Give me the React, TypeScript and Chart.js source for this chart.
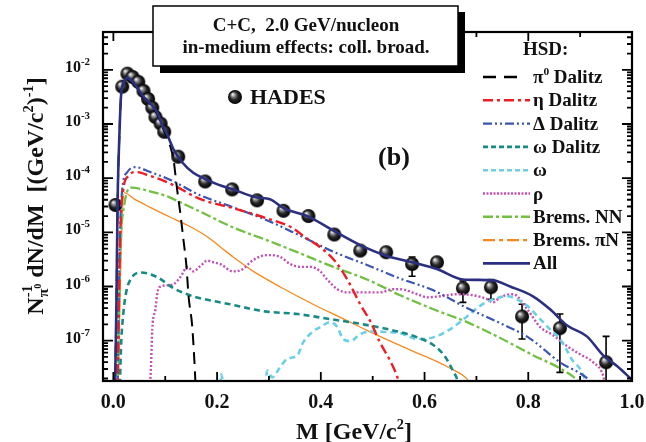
import React, { useEffect, useRef } from 'react';
import { Chart, registerables } from 'chart.js';
Chart.register(...registerables);

const FONT = '"Liberation Serif", "Times New Roman", serif';

// ---- axes ----
const xMin = -0.02;
const xMax = 1.0;
const yMin = 1.8e-8;
const yMax = 5e-2;
const xMajorTicks = [0, 0.2, 0.4, 0.6, 0.8, 1.0];
const xMajorLabels = ['0.0', '0.2', '0.4', '0.6', '0.8', '1.0'];
const xMinorTicks = [0.1, 0.3, 0.5, 0.7, 0.9];
const yDecades = [-7, -6, -5, -4, -3, -2];

// ---- HADES data ----
const hadesM = [0.004, 0.017, 0.027, 0.037, 0.048, 0.058, 0.067, 0.075, 0.081, 0.091, 0.098, 0.125, 0.177, 0.229, 0.277, 0.328, 0.376, 0.426, 0.476, 0.526, 0.576, 0.624, 0.674, 0.728, 0.788, 0.861, 0.950];
const hadesY = [3.2e-5, 4.9e-3, 8.5e-3, 7.4e-3, 6.0e-3, 4.1e-3, 2.9e-3, 2.0e-3, 1.35e-3, 1.02e-3, 7.2e-4, 2.5e-4, 8.7e-5, 6.2e-5, 3.9e-5, 2.5e-5, 2.0e-5, 9.1e-6, 4.6e-6, 4.3e-6, 2.6e-6, 2.8e-6, 9.3e-7, 9.7e-7, 2.8e-7, 1.7e-7, 4.0e-8];
const hadesErrHi: (number | null)[] = [null, null, null, null, null, null, null, null, null, null, null, null, null, null, null, null, null, null, null, null, 3.5e-6, null, 1.26e-6, 1.35e-6, 4.7e-7, 3.1e-7, 1.2e-7];
const hadesErrLo: (number | null)[] = [null, null, null, null, null, null, null, null, null, null, null, null, null, null, null, null, null, null, null, null, 1.55e-6, null, 5.1e-7, 5.8e-7, 1.07e-7, 2.6e-8, 1e-9];

// ---- HSD curves ----
const allM = [0.003, 0.006, 0.008, 0.012, 0.015, 0.021, 0.027, 0.039, 0.058, 0.071, 0.085, 0.094, 0.104, 0.116, 0.133, 0.154, 0.181, 0.202, 0.227, 0.277, 0.302, 0.328, 0.376, 0.426, 0.476, 0.526, 0.576, 0.624, 0.674, 0.732, 0.765, 0.809, 0.842, 0.875, 0.913, 0.944, 0.971, 1.0];
const allY = [1e-8, 5.8e-7, 3.0e-5, 7.9e-4, 3.5e-3, 6.0e-3, 7.1e-3, 5.8e-3, 3.2e-3, 2.4e-3, 1.6e-3, 9.7e-4, 6.3e-4, 3.4e-4, 1.95e-4, 1.26e-4, 9.3e-5, 7.6e-5, 6.4e-5, 4.4e-5, 4.1e-5, 2.8e-5, 1.95e-5, 1.05e-5, 5.8e-6, 3.7e-6, 2.8e-6, 2.1e-6, 1.35e-6, 1.3e-6, 1.0e-6, 6.6e-7, 3.8e-7, 1.9e-7, 1.2e-7, 5.4e-8, 3.4e-8, 1.9e-8];

const pi0M = [0.003, 0.006, 0.008, 0.012, 0.015, 0.021, 0.027, 0.039, 0.058, 0.071, 0.085, 0.094, 0.104, 0.110, 0.116, 0.119, 0.123, 0.129, 0.135, 0.141, 0.145, 0.152, 0.156, 0.158, 0.162];
const pi0Y = [1e-8, 5.8e-7, 3e-5, 7.9e-4, 3.5e-3, 6e-3, 7.0e-3, 5.7e-3, 3.1e-3, 2.3e-3, 1.5e-3, 9e-4, 5.5e-4, 3.8e-4, 2.2e-4, 1.3e-4, 6.1e-5, 2.3e-5, 7.4e-6, 2.3e-6, 6.6e-7, 1.85e-7, 4.6e-8, 1.9e-8, 5e-9];

const etaM = [0.008, 0.013, 0.019, 0.029, 0.042, 0.071, 0.110, 0.168, 0.231, 0.297, 0.343, 0.370, 0.399, 0.428, 0.451, 0.476, 0.495, 0.514, 0.534, 0.547, 0.557];
const etaY = [1e-8, 7.4e-6, 6.1e-5, 1.1e-4, 1.3e-4, 1.1e-4, 7.9e-5, 4.1e-5, 2.8e-5, 1.8e-5, 1.24e-5, 8.1e-6, 5.3e-6, 2.9e-6, 1.35e-6, 4.7e-7, 2.3e-7, 9.3e-8, 4.2e-8, 2.2e-8, 1e-8];

const deltaM = [0.008, 0.012, 0.017, 0.027, 0.042, 0.071, 0.110, 0.168, 0.231, 0.297, 0.360, 0.424, 0.489, 0.553, 0.617, 0.682, 0.746, 0.800, 0.861, 0.919, 0.938];
const deltaY = [1e-8, 4.9e-6, 6.1e-5, 1.3e-4, 1.6e-4, 1.3e-4, 9.3e-5, 4.8e-5, 2.9e-5, 1.66e-5, 8.7e-6, 4.4e-6, 2.5e-6, 1.4e-6, 8.5e-7, 4.0e-7, 2.1e-7, 1.15e-7, 4.0e-8, 1.8e-8, 1e-8];

const omegaDalM = [0.012, 0.015, 0.019, 0.025, 0.033, 0.052, 0.085, 0.116, 0.154, 0.193, 0.225, 0.289, 0.355, 0.418, 0.482, 0.553, 0.586, 0.617, 0.640, 0.653, 0.663, 0.670];
const omegaDalY = [1e-8, 8.7e-8, 3.1e-7, 8.1e-7, 1.35e-6, 1.82e-6, 1.48e-6, 9.3e-7, 6.6e-7, 5.4e-7, 4.7e-7, 3.5e-7, 3.1e-7, 2.5e-7, 2.0e-7, 1.44e-7, 1.15e-7, 8.3e-8, 5.0e-8, 3.0e-8, 1.9e-8, 1e-8];

const omegaM = [0.205, 0.208, 0.215, 0.290, 0.297, 0.306, 0.322, 0.335, 0.355, 0.366, 0.385, 0.399, 0.418, 0.432, 0.443, 0.457, 0.476, 0.501, 0.528, 0.553, 0.586, 0.617, 0.649, 0.682, 0.707, 0.732, 0.759, 0.778, 0.798, 0.823, 0.842, 0.861, 0.875, 0.886, 0.900, 0.909, 0.915];
const omegaY = [1e-8, 2.4e-8, 1e-8, 1e-8, 2.8e-8, 2.1e-8, 3.3e-8, 4.6e-8, 5.4e-8, 9.3e-8, 1.48e-7, 1.78e-7, 2.2e-7, 1.78e-7, 1.07e-7, 9.8e-8, 1.32e-7, 1.48e-7, 1.44e-7, 1.38e-7, 1.07e-7, 1.15e-7, 1.62e-7, 2.8e-7, 4.4e-7, 5.8e-7, 6.6e-7, 5.8e-7, 4.4e-7, 2.5e-7, 1.62e-7, 1.07e-7, 6.5e-8, 4.2e-8, 3.0e-8, 1.9e-8, 1e-8];

const rhoM = [0.070, 0.073, 0.075, 0.081, 0.085, 0.091, 0.104, 0.116, 0.129, 0.143, 0.154, 0.168, 0.181, 0.193, 0.206, 0.231, 0.250, 0.264, 0.283, 0.302, 0.322, 0.341, 0.360, 0.380, 0.399, 0.412, 0.432, 0.451, 0.482, 0.514, 0.539, 0.553, 0.586, 0.605, 0.630, 0.663, 0.694, 0.721, 0.732, 0.746, 0.771, 0.798, 0.823, 0.848, 0.875, 0.900, 0.925, 0.944, 0.952];
const rhoY = [1e-8, 4.6e-8, 1.62e-7, 3.8e-7, 7.8e-7, 1.0e-6, 1.05e-6, 1.1e-6, 1.48e-6, 2.3e-6, 1.9e-6, 2.4e-6, 3.0e-6, 2.8e-6, 2.6e-6, 1.9e-6, 2.1e-6, 2.8e-6, 3.6e-6, 3.8e-6, 3.5e-6, 2.6e-6, 2.3e-6, 2.3e-6, 1.9e-6, 1.35e-6, 8.9e-7, 7.8e-7, 7.8e-7, 7.8e-7, 8.9e-7, 8.9e-7, 7.2e-7, 6.3e-7, 6.6e-7, 7.2e-7, 6.9e-7, 5.8e-7, 5.1e-7, 6.3e-7, 7.2e-7, 3.8e-7, 1.78e-7, 1.26e-7, 7.9e-8, 5.6e-8, 4.0e-8, 2.3e-8, 1e-8];

const bremNNM = [0.008, 0.013, 0.021, 0.035, 0.071, 0.104, 0.143, 0.168, 0.231, 0.297, 0.360, 0.424, 0.489, 0.553, 0.617, 0.682, 0.746, 0.809, 0.861, 0.894, 0.920];
const bremNNY = [1e-8, 3.2e-6, 3.2e-5, 6.7e-5, 5.7e-5, 4.6e-5, 3.1e-5, 2.4e-5, 1.23e-5, 7.1e-6, 4.1e-6, 2.3e-6, 1.35e-6, 6.9e-7, 3.8e-7, 2.2e-7, 1.12e-7, 5.4e-8, 3.1e-8, 1.9e-8, 1e-8];

const bremPiNM = [0.009, 0.015, 0.021, 0.039, 0.071, 0.110, 0.143, 0.181, 0.208, 0.231, 0.270, 0.322, 0.385, 0.437, 0.489, 0.534, 0.586, 0.617, 0.649, 0.682, 0.700];
const bremPiNY = [1e-8, 4.9e-6, 5.4e-5, 4.2e-5, 2.9e-5, 1.9e-5, 1.35e-5, 8.3e-6, 5.2e-6, 3.5e-6, 1.9e-6, 9.8e-7, 4.7e-7, 2.7e-7, 1.55e-7, 9.8e-8, 5.9e-8, 4.4e-8, 3.1e-8, 1.95e-8, 1e-8];

type Seg = { t: string; f?: number; dy?: number; noAdv?: boolean };

type Series = { key: string; legend: Seg[]; m: number[]; y: number[]; color: string; width: number; dash: number[]; legendDash: number[] };

const series: Series[] = [
  { key: 'All', legend: [{ t: 'All' }], m: allM, y: allY, color: '#2b2f80', width: 2.6, dash: [], legendDash: [] },
  { key: 'pi0', legend: [{ t: 'π' }, { t: '0', f: 0.6, dy: -8 }, { t: ' Dalitz' }], m: pi0M, y: pi0Y, color: '#000000', width: 2, dash: [12, 7], legendDash: [13, 8] },
  { key: 'eta', legend: [{ t: 'η Dalitz' }], m: etaM, y: etaY, color: '#ee1c25', width: 2.4, dash: [10, 4, 3, 4], legendDash: [10, 4, 3, 4] },
  { key: 'delta', legend: [{ t: 'Δ Dalitz' }], m: deltaM, y: deltaY, color: '#3a55b4', width: 2.2, dash: [9, 3, 2, 3, 2, 3], legendDash: [9, 3, 2, 3, 2, 3] },
  { key: 'omegaDal', legend: [{ t: 'ω Dalitz' }], m: omegaDalM, y: omegaDalY, color: '#178a84', width: 2.6, dash: [6, 4], legendDash: [5, 3] },
  { key: 'omega', legend: [{ t: 'ω' }], m: omegaM, y: omegaY, color: '#6dcfe6', width: 2.6, dash: [6, 4], legendDash: [5, 3] },
  { key: 'rho', legend: [{ t: 'ρ' }], m: rhoM, y: rhoY, color: '#c34fb4', width: 2.4, dash: [2, 2], legendDash: [2, 1.5] },
  { key: 'bremNN', legend: [{ t: 'Brems. NN' }], m: bremNNM, y: bremNNY, color: '#72c043', width: 2.3, dash: [10, 3, 3, 3], legendDash: [10, 3, 3, 3] },
  { key: 'bremPiN', legend: [{ t: 'Brems. πN' }], m: bremPiNM, y: bremPiNY, color: '#f7891f', width: 1.3, dash: [], legendDash: [12, 4, 4, 4] },
];
const legendOrder = ['pi0', 'eta', 'delta', 'omegaDal', 'omega', 'rho', 'bremNN', 'bremPiN', 'All'];

function setFont(ctx: CanvasRenderingContext2D, size: number) {
  ctx.font = `bold ${size}px ${FONT}`;
}
function richWidth(ctx: CanvasRenderingContext2D, segs: Seg[], size: number) {
  let w = 0;
  for (const s of segs) {
    setFont(ctx, size * (s.f ?? 1));
    if (!s.noAdv) w += ctx.measureText(s.t).width;
  }
  return w;
}
function drawRich(ctx: CanvasRenderingContext2D, segs: Seg[], x: number, y: number, size: number, align: 'left' | 'center' | 'right') {
  const w = richWidth(ctx, segs, size);
  let cx = align === 'left' ? x : align === 'center' ? x - w / 2 : x - w;
  ctx.textAlign = 'left';
  ctx.textBaseline = 'alphabetic';
  for (const s of segs) {
    setFont(ctx, size * (s.f ?? 1));
    ctx.fillText(s.t, cx, y + (s.dy ?? 0));
    if (!s.noAdv) cx += ctx.measureText(s.t).width;
  }
}

function makeSphere(r: number) {
  const c = document.createElement('canvas');
  const s = Math.ceil(r * 2 + 2);
  c.width = s;
  c.height = s;
  const g = c.getContext('2d')!;
  const cx = s / 2, cy = s / 2;
  const grad = g.createRadialGradient(cx - r * 0.35, cy - r * 0.4, r * 0.05, cx, cy, r);
  grad.addColorStop(0, '#f6f6f6');
  grad.addColorStop(0.22, '#9a9a9a');
  grad.addColorStop(0.55, '#2a2a2a');
  grad.addColorStop(1, '#000000');
  g.fillStyle = grad;
  g.beginPath();
  g.arc(cx, cy, r, 0, Math.PI * 2);
  g.fill();
  return c;
}

export default function App() {
  const ref = useRef<HTMLCanvasElement | null>(null);
  useEffect(() => {
    const canvas = ref.current!;
    const sphere = makeSphere(7);

    const decor = {
      id: 'decor',
      beforeDatasetsDraw(chart: any) {
        const { ctx, chartArea: ca } = chart;
        const x = chart.scales.x, y = chart.scales.y;
        ctx.save();
        ctx.beginPath();
        ctx.rect(ca.left, ca.top, ca.right - ca.left, ca.bottom - ca.top);
        ctx.clip();
        ctx.strokeStyle = '#000';
        ctx.lineWidth = 1.6;
        for (let i = 0; i < hadesM.length; i++) {
          const hi = hadesErrHi[i], lo = hadesErrLo[i];
          if (hi == null || lo == null) continue;
          const px = x.getPixelForValue(hadesM[i]);
          const p1 = y.getPixelForValue(hi), p2 = y.getPixelForValue(lo);
          ctx.beginPath();
          ctx.moveTo(px, p1); ctx.lineTo(px, p2);
          ctx.moveTo(px - 3.5, p1); ctx.lineTo(px + 3.5, p1);
          ctx.moveTo(px - 3.5, p2); ctx.lineTo(px + 3.5, p2);
          ctx.stroke();
        }
        ctx.restore();
      },
      afterDraw(chart: any) {
        const { ctx, chartArea: ca } = chart;
        const x = chart.scales.x, y = chart.scales.y;
        ctx.save();
        ctx.fillStyle = '#000';
        ctx.strokeStyle = '#000';
        // frame
        ctx.lineWidth = 2.2;
        ctx.strokeRect(ca.left, ca.top, ca.right - ca.left, ca.bottom - ca.top);
        // x ticks
        ctx.lineWidth = 1.8;
        const xt = (v: number, len: number) => {
          const px = x.getPixelForValue(v);
          ctx.beginPath();
          ctx.moveTo(px, ca.bottom); ctx.lineTo(px, ca.bottom - len);
          ctx.moveTo(px, ca.top); ctx.lineTo(px, ca.top + len);
          ctx.stroke();
        };
        xMajorTicks.forEach(v => xt(v, 9));
        xMinorTicks.forEach(v => xt(v, 5));
        // y ticks
        const yt = (v: number, len: number) => {
          const py = y.getPixelForValue(v);
          if (py < ca.top - 0.5 || py > ca.bottom + 0.5) return;
          ctx.beginPath();
          ctx.moveTo(ca.left, py); ctx.lineTo(ca.left + len, py);
          ctx.moveTo(ca.right, py); ctx.lineTo(ca.right - len, py);
          ctx.stroke();
        };
        for (let d = -8; d <= -1; d++) {
          for (let k = 1; k <= 9; k++) {
            const v = k * Math.pow(10, d);
            if (v < yMin || v > yMax) continue;
            yt(v, k === 1 ? 10 : 5);
          }
        }
        // x tick labels
        ctx.fillStyle = '#111';
        xMajorTicks.forEach((v, i) => {
          drawRich(ctx, [{ t: xMajorLabels[i] }], x.getPixelForValue(v), 408, 20, 'center');
        });
        // y tick labels
        yDecades.forEach(d => {
          const py = y.getPixelForValue(Math.pow(10, d));
          drawRich(ctx, [{ t: '10' }, { t: '-' + Math.abs(d), f: 0.68, dy: -7 }], 90, py + 2, 16, 'right');
        });
        // x title
        drawRich(ctx, [{ t: 'M [GeV/c' }, { t: '2', f: 0.6, dy: -10 }, { t: ']' }], 354, 439, 24, 'center');
        // y title
        ctx.save();
        ctx.translate(43, 196);
        ctx.rotate(-Math.PI / 2);
        drawRich(ctx, [
          { t: 'N' },
          { t: '-1', f: 0.6, dy: -11, noAdv: true },
          { t: 'π', f: 0.65, dy: 5 },
          { t: '0', f: 0.42, dy: -2 },
          { t: ' dN/dM  [(GeV/c' },
          { t: '2', f: 0.6, dy: -10 },
          { t: ')' },
          { t: '-1', f: 0.6, dy: -10 },
          { t: ']' },
        ], 0, 0, 24, 'center');
        ctx.restore();

        // HADES label
        ctx.drawImage(sphere, 235 - sphere.width / 2, 97 - sphere.height / 2);
        ctx.fillStyle = '#111';
        drawRich(ctx, [{ t: 'HADES' }], 250, 104, 22, 'left');
        // (b)
        drawRich(ctx, [{ t: '(b)' }], 394, 165, 26, 'center');

        // legend
        drawRich(ctx, [{ t: 'HSD:' }], 523, 55, 19, 'left');
        legendOrder.forEach((key, i) => {
          const s = series.find(q => q.key === key)!;
          const ry = 77 + i * 23.3;
          ctx.save();
          ctx.strokeStyle = s.color;
          ctx.lineWidth = key === 'bremPiN' ? 2.4 : Math.max(2.4, s.width);
          ctx.setLineDash(s.legendDash);
          ctx.beginPath();
          ctx.moveTo(483, ry); ctx.lineTo(key === 'pi0' ? 520 : 530, ry);
          ctx.stroke();
          ctx.restore();
          ctx.fillStyle = '#111';
          drawRich(ctx, s.legend, 533, ry + 6, 19, 'left');
        });

        // title box with shadow
        ctx.fillStyle = '#000';
        ctx.fillRect(160, 12, 305, 61);
        ctx.fillStyle = '#fff';
        ctx.fillRect(153, 6, 305, 60);
        ctx.lineWidth = 1.5;
        ctx.strokeStyle = '#000';
        ctx.strokeRect(153, 6, 305, 60);
        ctx.fillStyle = '#111';
        drawRich(ctx, [{ t: 'C+C,  2.0 GeV/nucleon' }], 306, 31, 19, 'center');
        drawRich(ctx, [{ t: 'in-medium effects: coll. broad.' }], 306, 53, 19, 'center');
        ctx.restore();
      },
    };

    const datasets: any[] = series.map(s => ({
      type: 'line',
      label: s.key,
      data: s.m.map((m, i) => ({ x: m, y: s.y[i] })),
      borderColor: s.color,
      borderWidth: s.width,
      borderDash: s.dash,
      pointRadius: 0,
      fill: false,
      cubicInterpolationMode: 'monotone',
      borderCapStyle: 'butt',
    }));
    datasets.push({
      type: 'line',
      label: 'HADES',
      data: hadesM.map((m, i) => ({ x: m, y: hadesY[i] })),
      showLine: false,
      pointStyle: sphere,
      pointRadius: 7,
      pointHoverRadius: 7,
    });

    const chart = new Chart(canvas, {
      type: 'line',
      data: { datasets },
      options: {
        animation: false,
        responsive: false,
        maintainAspectRatio: false,
        devicePixelRatio: 1,
        events: [],
        layout: { padding: { left: 103, top: 32, right: 14, bottom: 61 } },
        plugins: { legend: { display: false }, tooltip: { enabled: false }, title: { display: false } },
        scales: {
          x: { type: 'linear', min: xMin, max: xMax, display: false },
          y: { type: 'logarithmic', min: yMin, max: yMax, display: false },
        },
      } as any,
      plugins: [decor],
    });
    return () => chart.destroy();
  }, []);

  return (
    <div style={{ position: 'absolute', left: 0, top: 0, width: 646, height: 442, background: '#fff' }}>
      <canvas ref={ref} width={646} height={442} style={{ display: 'block', width: 646, height: 442 }} />
    </div>
  );
}
